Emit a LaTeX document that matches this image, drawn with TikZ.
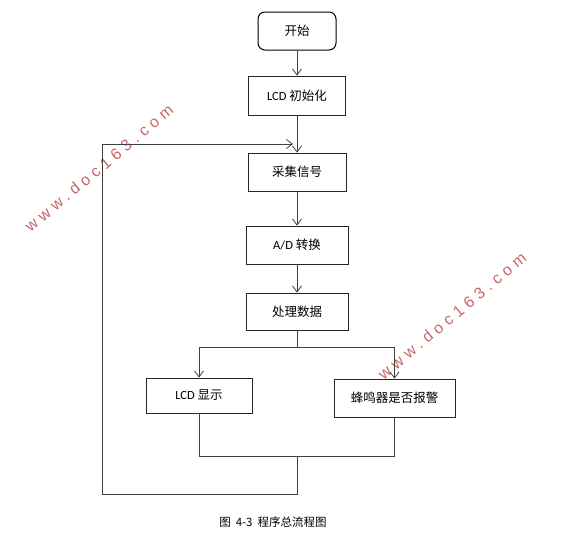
\documentclass[tikz,border=0pt]{standalone}
\usepackage{fontspec}
\setmainfont{Carlito}
\newfontfamily\cjk{Noto Sans CJK SC}
\newfontfamily\wmfont[LetterSpace=30]{Liberation Sans}
\usetikzlibrary{arrows.meta}
\definecolor{wmred}{HTML}{C86666}
\definecolor{linegray}{HTML}{404040}
\tikzset{
  box/.style={draw=black!85, line width=0.8pt, minimum height=38pt, inner sep=0pt, font=\fontsize{12.5}{14}\selectfont},
  rbox/.style={box, rounded corners=7pt, draw=black, line width=1pt},
  conn/.style={draw=linegray, line width=0.8pt},
  arr/.style={conn, -{Straight Barb[length=6pt,width=9pt]}},
  watermark/.style={text=wmred, font=\wmfont\fontsize{16}{18}\selectfont, rotate=40, inner sep=0pt}
}
\begin{document}
\begin{tikzpicture}[x=1pt,y=-1pt]
\useasboundingbox (0,0) rectangle (575,557);
% watermarks
\node[watermark] (wm1) at (99,168) {www.doc163.com};
\node[watermark] (wm2) at (452,316) {www.doc163.com};
% boxes
\node[rbox, minimum width=78pt] (start) at (297,31) {\cjk 开始};
\node[box, minimum width=97pt, minimum height=39pt] (init) at (297,95.5) {LCD {\cjk 初始化}};
\node[box, minimum width=98pt] (collect) at (297,172) {\cjk 采集信号};
\node[box, minimum width=102pt] (ad) at (297,245) {A/D {\cjk 转换}};
\node[box, minimum width=102pt, minimum height=37pt] (proc) at (297,311.5) {\cjk 处理数据};
\node[box, minimum width=106pt, minimum height=35pt] (lcd) at (199,395.5) {LCD {\cjk 显示}};
\node[box, minimum width=121pt] (buzz) at (394.5,398) {\cjk 蜂鸣器是否报警};
% coordinates
\coordinate (split) at (297,347);
\coordinate (merge) at (297,456);
\coordinate (fbA) at (297,494);
\coordinate (fbB) at (102,494);
\coordinate (fbC) at (102,144);
\coordinate (fbD) at (293,144);
% connectors
\draw[arr] (start) -- (init);
\draw[arr] (init) -- (collect);
\draw[arr] (collect) -- (ad);
\draw[arr] (ad) -- (proc);
\draw[conn] (proc.south) -- (split);
\draw[arr] (split) -- (lcd.north |- split) -- (lcd.north);
\draw[arr] (split) -- (buzz.north |- split) -- (buzz.north);
\draw[conn] (lcd.south) -- (lcd.south |- merge) -- (buzz.south |- merge) -- (buzz.south);
\draw[conn] (merge) -- (fbA) -- (fbB) -- (fbC);
\draw[arr] (fbC) -- (fbD);
% caption
\node[inner sep=0pt, font=\cjk\fontsize{11.5}{13}\selectfont] (cap) at (273,522) {图\hspace{5pt}4-3\hspace{5pt}程序总流程图};
\end{tikzpicture}
\end{document}
